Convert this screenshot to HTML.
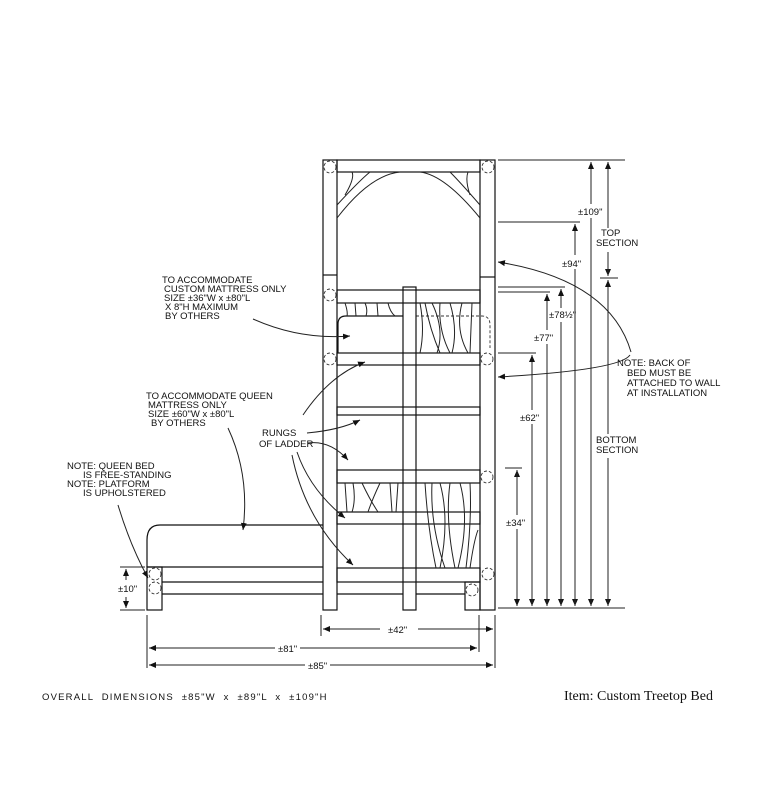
<!DOCTYPE html>
<html><head><meta charset="utf-8"><style>
html,body{margin:0;padding:0;background:#fff;}
svg{display:block}
text{font-family:"Liberation Sans",sans-serif;fill:#111;font-size:9.5px;}
.s{fill:none;stroke:#111;stroke-width:1.2}
.t{fill:none;stroke:#222;stroke-width:1}
.d{fill:none;stroke:#333;stroke-width:0.9;stroke-dasharray:3 2}
</style></head><body>
<svg width="768" height="790" viewBox="0 0 768 790" xmlns="http://www.w3.org/2000/svg">
<defs><marker id="a" markerWidth="8" markerHeight="8" refX="7" refY="4" orient="auto"><path d="M0,1 L7,4 L0,7" fill="#111"/></marker></defs>
<rect class="s" x="323" y="160" width="14" height="450"/>
<rect class="s" x="480" y="160" width="15" height="450"/>
<line class="s" x1="323" y1="275" x2="337" y2="275"/><line class="s" x1="480" y1="277" x2="495" y2="277"/>
<rect class="s" x="337" y="160" width="143" height="12"/>
<path class="t" d="M337,218 Q370,175 400,172 M480,218 Q445,175 420,172 M337,205 Q360,180 370,172 M480,205 Q460,182 450,172 M345,195 Q355,178 352,172 M470,195 Q465,180 468,172"/>
<rect class="s" x="337" y="290" width="143" height="13"/>
<rect class="s" x="337" y="353" width="143" height="12"/>
<path class="s" d="M338,353 L338,324 Q338,316 346,316 L403,316"/>
<path class="d" d="M416,316 L482,316 Q490,316 490,325 L490,348"/>
<path class="t" d="M345,303 Q348,312 347,316 M355,303 L356,316 M365,303 Q368,310 366,316 M377,303 L378,316 M388,303 Q390,312 395,316 M425,303 Q430,330 440,353 M432,303 Q445,330 437,353 M440,303 Q438,330 450,353 M450,303 Q458,330 452,353 M462,303 Q455,330 468,353 M472,303 L470,353 M420,303 Q425,330 420,353"/>
<rect class="s" x="403" y="287" width="13" height="323"/>
<rect class="s" x="337" y="407" width="143" height="8"/>
<rect class="s" x="337" y="470" width="143" height="13"/>
<rect class="s" x="337" y="512" width="143" height="12"/>
<rect class="s" x="337" y="568" width="143" height="14"/>
<path class="t" d="M345,483 L347,512 M353,483 Q356,500 352,512 M362,483 Q370,500 378,512 M380,483 Q372,500 368,512 M390,483 L392,512 M398,483 L396,512 M425,483 Q428,530 436,568 M432,483 Q430,525 445,568 M440,483 Q450,520 440,568 M450,483 Q445,520 455,568 M460,483 Q470,520 458,568 M470,483 Q472,520 466,568 M478,530 Q474,540 470,568"/>
<g class="d"><circle cx="330" cy="167" r="6"/><circle cx="488" cy="167" r="6"/><circle cx="330" cy="295" r="6"/><circle cx="330" cy="359" r="6"/><circle cx="487" cy="359" r="6"/><circle cx="487" cy="477" r="6"/><circle cx="488" cy="574" r="6"/><circle cx="472" cy="590" r="6"/><circle cx="155" cy="574" r="6"/><circle cx="155" cy="588" r="6"/></g>
<path class="s" d="M147,567 L147,540 Q147,525 160,525 L323,525"/>
<line class="s" x1="147" y1="567" x2="323" y2="567"/>
<rect class="s" x="147" y="567" width="15" height="43"/>
<line class="s" x1="162" y1="582" x2="323" y2="582"/>
<line class="s" x1="162" y1="594" x2="323" y2="594"/>
<line class="s" x1="337" y1="594" x2="403" y2="594"/><line class="s" x1="416" y1="594" x2="465" y2="594"/>
<rect class="s" x="465" y="582" width="15" height="28"/>
<g class="t">
<line x1="498" y1="160" x2="625" y2="160"/><line x1="498" y1="222" x2="580" y2="222"/>
<line x1="498" y1="287" x2="565" y2="287"/><line x1="498" y1="292" x2="550" y2="292"/>
<line x1="498" y1="353" x2="536" y2="353"/><line x1="505" y1="468" x2="522" y2="468"/>
<line x1="498" y1="608" x2="625" y2="608"/><line x1="600" y1="278" x2="618" y2="278"/>
<path d="M517,606 L517,470" marker-end="url(#a)"/><path d="M517,470 L517,606" marker-end="url(#a)"/>
<path d="M532,355 L532,606" marker-end="url(#a)"/><path d="M532,606 L532,355" marker-end="url(#a)"/>
<path d="M547,294 L547,606" marker-end="url(#a)"/><path d="M547,606 L547,294" marker-end="url(#a)"/>
<path d="M561,289 L561,606" marker-end="url(#a)"/><path d="M561,606 L561,289" marker-end="url(#a)"/>
<path d="M575,224 L575,606" marker-end="url(#a)"/><path d="M575,606 L575,224" marker-end="url(#a)"/>
<path d="M591,162 L591,606" marker-end="url(#a)"/><path d="M591,606 L591,162" marker-end="url(#a)"/>
<path d="M608,162 L608,276" marker-end="url(#a)"/><path d="M608,276 L608,162" marker-end="url(#a)"/>
<path d="M608,280 L608,606" marker-end="url(#a)"/><path d="M608,606 L608,280" marker-end="url(#a)"/>
</g>
<rect x="510" y="515" width="20" height="14" fill="#fff"/><text x="506" y="526">±34"</text>
<rect x="522" y="410" width="22" height="14" fill="#fff"/><text x="520" y="421">±62"</text>
<rect x="536" y="330" width="22" height="14" fill="#fff"/><text x="534" y="341">±77"</text>
<rect x="550" y="308" width="24" height="14" fill="#fff"/><text x="549" y="318">±78½"</text>
<rect x="565" y="255" width="22" height="14" fill="#fff"/><text x="562" y="267">±94"</text>
<rect x="580" y="204" width="26" height="14" fill="#fff"/><text x="578" y="215">±109"</text>
<rect x="596" y="228" width="30" height="24" fill="#fff"/><text x="601" y="236" font-size="8">TOP</text><text x="596" y="246" font-size="8">SECTION</text>
<rect x="596" y="434" width="30" height="24" fill="#fff"/><text x="596" y="443" font-size="8">BOTTOM</text><text x="596" y="453" font-size="8">SECTION</text>
<g class="t">
<line x1="321" y1="615" x2="321" y2="636"/><line x1="495" y1="615" x2="495" y2="668"/><line x1="479" y1="615" x2="479" y2="652"/><line x1="147" y1="615" x2="147" y2="668"/>
<path d="M380,629 L323,629" marker-end="url(#a)"/><path d="M418,629 L493,629" marker-end="url(#a)"/>
<path d="M275,648 L149,648" marker-end="url(#a)"/><path d="M300,648 L477,648" marker-end="url(#a)"/>
<path d="M305,665 L149,665" marker-end="url(#a)"/><path d="M330,665 L493,665" marker-end="url(#a)"/>
<line x1="120" y1="567" x2="145" y2="567"/><line x1="120" y1="610" x2="145" y2="610"/>
<path d="M126,580 L126,569" marker-end="url(#a)"/><path d="M126,597 L126,608" marker-end="url(#a)"/>
</g>
<text x="388" y="633">±42"</text><text x="278" y="652">±81"</text><text x="308" y="669">±85"</text>
<text x="118" y="592" font-size="8.5">±10"</text>
<g class="t">
<path d="M253,319 Q300,340 350,336" marker-end="url(#a)"/>
<path d="M303,415 Q330,375 365,362" marker-end="url(#a)"/>
<path d="M307,433 Q340,430 360,420" marker-end="url(#a)"/>
<path d="M308,443 Q330,440 348,460" marker-end="url(#a)"/>
<path d="M297,452 Q310,490 345,518" marker-end="url(#a)"/>
<path d="M292,455 Q305,520 353,565" marker-end="url(#a)"/>
<path d="M228,428 Q250,475 243,530" marker-end="url(#a)"/>
<path d="M118,505 Q130,545 148,578" marker-end="url(#a)"/>
<path d="M630,355 Q620,370 498,377" marker-end="url(#a)"/>
<path d="M631,352 Q610,280 498,262" marker-end="url(#a)"/>
</g>
<text x="162" y="283" font-size="9">TO ACCOMMODATE</text>
<text x="164" y="292" font-size="9">CUSTOM MATTRESS ONLY</text>
<text x="164" y="301" font-size="9">SIZE ±36"W x ±80"L</text>
<text x="165" y="310" font-size="9">X 8"H MAXIMUM</text>
<text x="165" y="319" font-size="9">BY OTHERS</text>
<text x="146" y="399" font-size="9">TO ACCOMMODATE QUEEN</text>
<text x="148" y="408" font-size="9">MATTRESS ONLY</text>
<text x="148" y="417" font-size="9">SIZE ±60"W x ±80"L</text>
<text x="151" y="426" font-size="9">BY OTHERS</text>
<text x="262" y="436" font-size="9">RUNGS</text>
<text x="259" y="447" font-size="9">OF LADDER</text>
<text x="67" y="469" font-size="8.5">NOTE: QUEEN BED</text>
<text x="83" y="478" font-size="8.5">IS FREE-STANDING</text>
<text x="67" y="487" font-size="8.5">NOTE: PLATFORM</text>
<text x="83" y="496" font-size="8.5">IS UPHOLSTERED</text>
<text x="617" y="366" font-size="8.5">NOTE: BACK OF</text>
<text x="627" y="376" font-size="8.5">BED MUST BE</text>
<text x="627" y="386" font-size="8.5">ATTACHED TO WALL</text>
<text x="627" y="396" font-size="8.5">AT INSTALLATION</text>
<text x="42" y="700" font-size="9.5" style="letter-spacing:1.2px;word-spacing:4px">OVERALL DIMENSIONS  ±85"W  x  ±89"L  x  ±109"H</text>
<text x="564" y="700" style="font-family:'Liberation Serif',serif;font-size:14px">Item: Custom Treetop Bed</text>
</svg>
</body></html>
